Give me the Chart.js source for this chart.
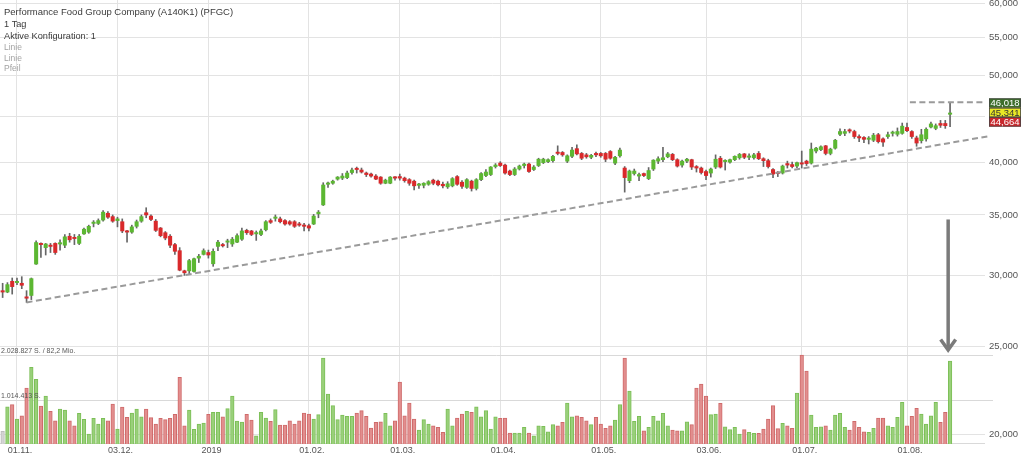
<!DOCTYPE html>
<html><head><meta charset="utf-8">
<script src="https://cdn.jsdelivr.net/npm/chart.js@4.4.1/dist/chart.umd.min.js"></script>
<style>html,body{margin:0;padding:0;background:#fff;overflow:hidden}#wrap{position:relative;width:1024px;height:459px}</style>
</head><body><div id="wrap"><canvas id="c"></canvas></div>
<script>
const titleLines = ["Performance Food Group Company (A140K1) (PFGC)", "1 Tag", "Aktive Konfiguration: 1"];
const drawingLines = ["Linie", "Linie", "Pfeil"];
const xTickIdx = [3, 24, 43, 64, 83, 104, 125, 147, 167, 189];
const xTickLabels = ["01.11.", "03.12.", "2019", "01.02.", "01.03.", "01.04.", "01.05.", "03.06.", "01.07.", "01.08."];
const yTickValues = [20, 25, 30, 35, 40, 45, 50, 55, 60];

const open = [
28.85,28.75,29.55,29.45,29.40,28.40,28.50,30.88,32.55,32.20,
32.40,32.55,32.50,32.40,33.15,33.05,32.55,33.35,33.50,34.25,
34.25,34.55,35.15,34.85,34.50,34.40,33.60,33.50,34.00,34.45,
35.20,34.90,34.45,33.85,33.45,33.15,32.45,31.95,30.35,30.35,
30.30,31.35,31.65,31.80,30.90,32.30,32.45,32.65,32.50,32.65,
32.90,33.65,33.60,33.35,33.30,33.70,34.50,34.70,34.65,34.50,
34.40,34.40,34.20,34.05,34.05,34.20,35.10,35.91,37.85,37.95,
38.35,38.45,38.50,39.00,39.35,39.25,38.95,38.85,38.65,38.55,
37.95,37.95,38.50,38.60,38.45,38.30,38.15,37.75,37.75,37.85,
38.25,38.15,37.85,37.60,37.70,38.60,38.05,37.55,38.15,37.45,
38.30,38.70,38.80,39.60,39.95,39.75,39.15,38.80,39.35,39.70,
39.85,39.30,39.70,40.00,40.10,40.20,41.05,41.05,40.15,40.65,
41.45,40.95,40.80,40.55,40.95,40.95,40.95,41.15,39.95,40.70,
39.45,38.20,38.90,38.65,38.90,38.40,39.35,40.15,40.30,40.60,
40.85,40.30,39.75,40.15,40.30,39.60,39.45,39.10,38.95,39.55,
40.45,40.10,40.05,40.30,40.50,40.90,40.55,40.50,40.95,40.40,
40.20,39.30,39.00,38.95,39.90,39.80,39.65,39.90,40.15,39.95,
41.20,41.35,41.75,40.95,41.50,43.00,43.10,43.45,43.30,42.75,
42.65,42.45,42.35,42.95,42.50,42.75,43.10,43.00,43.10,43.75,
43.30,42.60,42.30,42.50,43.80,43.65,44.20,44.20,45.25];
const high = [
29.40,29.45,29.80,29.80,29.90,28.85,29.80,32.76,32.60,32.55,
32.55,32.60,32.85,33.30,33.40,33.30,33.30,33.85,34.10,34.50,
34.65,35.40,35.30,35.00,34.80,34.65,33.65,34.10,34.55,35.00,
35.65,35.00,34.60,33.90,33.55,33.30,32.55,32.20,30.40,31.25,
31.35,31.65,32.10,32.00,32.10,32.80,32.55,32.90,33.05,33.35,
33.85,33.75,33.65,33.60,33.75,34.50,34.65,35.00,34.80,34.60,
34.50,34.50,34.35,34.25,34.20,35.05,35.40,38.00,38.05,38.25,
38.60,38.90,39.15,39.45,39.55,39.45,39.05,38.95,38.80,38.60,
38.35,38.60,38.60,38.85,38.55,38.40,38.25,37.95,38.00,38.20,
38.35,38.25,38.05,38.10,38.50,38.70,38.20,38.40,38.25,38.40,
39.00,39.30,39.60,39.90,40.10,39.85,39.25,39.50,39.75,39.95,
39.95,39.70,40.45,40.45,40.40,40.75,41.75,41.15,40.80,41.60,
41.85,41.05,40.95,40.85,41.10,41.05,41.05,41.25,40.65,41.50,
39.60,39.25,39.35,38.95,38.95,39.50,40.30,40.60,41.60,41.05,
40.95,40.40,40.25,40.45,40.35,39.70,39.55,39.25,39.45,40.80,
40.65,40.30,40.35,40.70,40.95,40.95,40.90,40.95,41.15,40.50,
40.35,39.40,39.10,39.75,40.15,40.05,40.05,41.20,40.25,42.05,
41.60,41.75,41.80,41.50,42.45,43.60,43.55,43.60,43.45,42.95,
42.75,42.75,43.10,43.10,42.60,43.25,43.35,43.70,44.25,44.25,
43.40,42.80,43.55,43.70,44.35,44.15,44.55,44.55,46.60];
const low = [
28.35,28.70,28.60,29.30,29.00,28.00,28.20,30.85,31.40,31.60,
31.80,31.65,32.00,32.20,32.65,32.45,32.45,33.30,33.40,33.95,
34.15,34.45,34.70,34.35,33.95,33.45,32.65,33.40,33.85,34.35,
34.75,34.50,33.55,33.10,32.85,32.20,31.65,30.35,30.00,30.10,
30.25,31.00,31.60,31.35,30.70,31.95,32.25,32.20,32.30,32.60,
32.80,33.30,33.20,32.80,33.20,33.60,34.25,34.45,34.30,34.10,
34.10,33.90,34.00,33.60,33.60,34.15,34.75,35.85,37.55,37.85,
38.25,38.30,38.40,38.85,38.95,38.95,38.60,38.55,38.30,37.85,
37.90,37.90,38.25,38.25,38.05,37.75,37.30,37.45,37.50,37.75,
37.80,37.70,37.50,37.45,37.60,37.75,37.45,37.45,37.20,37.30,
38.20,38.60,38.70,39.45,39.60,38.85,38.70,38.70,39.25,39.45,
39.00,39.20,39.60,39.90,40.00,40.05,40.80,40.65,40.00,40.50,
40.80,40.30,40.45,40.40,40.60,40.55,40.10,40.35,39.80,40.55,
37.10,38.00,38.75,38.20,38.60,38.30,39.20,39.90,40.10,40.50,
40.20,39.55,39.55,40.00,39.30,39.05,38.85,38.30,38.55,39.40,
39.45,39.25,39.95,40.20,40.35,40.40,40.30,40.35,40.30,39.60,
39.45,38.50,38.60,38.85,39.45,39.45,39.50,39.45,39.70,39.85,
41.00,41.25,40.80,40.80,41.40,42.85,42.85,43.15,42.55,42.20,
42.10,41.95,42.20,42.05,41.70,42.55,42.80,42.80,43.00,43.30,
42.55,41.70,42.05,42.25,43.70,43.50,43.75,43.65,43.85];
const close = [
28.75,29.30,29.15,29.50,29.25,28.30,29.75,32.62,32.45,32.50,
32.30,31.80,32.60,33.10,32.85,32.95,33.15,33.75,34.00,34.35,
34.50,35.25,34.80,34.45,34.65,33.60,33.50,33.95,34.40,34.85,
35.00,34.60,33.65,33.20,33.00,32.40,31.90,30.40,30.20,31.15,
31.30,31.50,31.95,31.60,31.90,32.65,32.35,32.75,32.90,33.20,
33.60,33.45,33.30,33.45,33.60,34.40,34.35,34.80,34.40,34.20,
34.20,34.00,34.10,34.00,33.85,34.90,35.25,37.78,37.95,38.15,
38.55,38.65,38.95,39.25,39.30,39.05,38.80,38.65,38.35,37.95,
38.25,38.55,38.45,38.45,38.20,37.95,37.70,37.80,37.95,38.10,
37.95,37.80,37.70,37.90,38.40,37.85,37.65,38.30,37.45,38.30,
38.90,39.05,39.55,39.75,39.70,38.95,38.80,39.35,39.65,39.85,
39.10,39.55,40.35,40.35,40.30,40.65,40.95,40.80,40.70,41.30,
40.90,40.45,40.60,40.75,40.80,40.70,40.35,40.45,40.55,41.30,
38.50,39.15,39.15,38.80,38.70,39.20,40.25,40.40,40.50,40.90,
40.30,39.65,40.15,40.35,39.55,39.45,39.00,38.70,39.35,40.35,
39.55,40.15,40.30,40.65,40.85,40.55,40.65,40.80,40.40,40.20,
39.60,38.85,38.90,39.65,39.75,39.60,40.00,39.85,39.90,41.40,
41.50,41.65,40.95,41.40,42.35,43.30,43.30,43.35,42.75,42.60,
42.45,42.55,42.90,42.20,42.15,42.95,43.20,43.30,43.90,43.40,
42.75,42.05,42.95,43.55,44.15,43.95,44.00,43.95,45.341];
const volume = [
287000,850000,896000,570000,645000,1277000,1746000,1473000,866000,1094000,
743000,531000,798000,775000,531000,417000,698000,561000,228000,584000,
456000,584000,531000,912000,342000,843000,606000,707000,798000,622000,
798000,600000,456000,584000,554000,584000,675000,1518000,417000,775000,
333000,456000,479000,675000,720000,720000,622000,805000,1094000,524000,
502000,675000,547000,189000,723000,593000,517000,782000,433000,433000,
531000,456000,531000,707000,684000,570000,668000,1960000,1140000,873000,
554000,661000,631000,631000,707000,759000,631000,365000,495000,508000,
700000,417000,531000,1413000,645000,935000,570000,319000,554000,456000,
417000,381000,267000,798000,417000,593000,684000,745000,723000,850000,
622000,759000,342000,622000,586000,593000,251000,251000,251000,381000,
251000,189000,417000,403000,280000,440000,417000,495000,935000,622000,
645000,609000,531000,440000,609000,456000,358000,417000,547000,896000,
1960000,1208000,517000,631000,303000,381000,631000,531000,700000,417000,
319000,303000,303000,508000,440000,1277000,1368000,1094000,668000,684000,
928000,394000,326000,381000,228000,326000,267000,244000,244000,342000,
570000,873000,349000,472000,417000,358000,1163000,2028827,1664000,661000,
381000,394000,417000,319000,661000,700000,381000,319000,517000,381000,
280000,267000,358000,593000,593000,417000,381000,609000,951000,417000,
631000,814000,684000,456000,645000,951000,495000,723000,1892000];

const volumeLevels = [2028827, 1014413];
const volumeTurnover = "82,2 Mio.";
const priceBoxes = [46.018, 45.341, 44.664];
const trendLine = [{x: 5, y: 28.0}, {x: 205.9, y: 42.77}];
const levelLine = [{x: 189.6, y: 46.65}, {x: 204.8, y: 46.65}];
const arrowMark = {x: 197.6, from: 34.6, to: 24.74};

const FONT = '"Liberation Sans", Arial, Helvetica, sans-serif';
Chart.defaults.font.family = FONT;

function fmt3(v) { return v.toFixed(3).replace('.', ','); }
function fmtInt(v) { return String(Math.round(v)).replace(/\B(?=(\d{3})+(?!\d))/g, '.'); }

const UP = '#5cb732', DOWN = '#d9292b';
const VOL_MAX = volumeLevels[0] * 444 / 89;

const overlay = {
  id: 'overlay',
  beforeDatasetsDraw(chart) {
    const {ctx, chartArea: a, scales} = chart;
    const yv = scales.yv;
    ctx.save();
    ctx.strokeStyle = '#d9d9d9';
    ctx.lineWidth = 1;
    volumeLevels.forEach(v => {
      const y = Math.round(yv.getPixelForValue(v)) + 0.5;
      ctx.beginPath(); ctx.moveTo(a.left, y); ctx.lineTo(993, y); ctx.stroke();
    });
    const yb = Math.round(yv.getPixelForValue(0)) - 0.5;
    ctx.beginPath(); ctx.moveTo(a.left, yb); ctx.lineTo(a.right, yb); ctx.stroke();
    ctx.restore();
  },
  afterDatasetsDraw(chart) {
    const {ctx, scales} = chart;
    const x = scales.x, y = scales.y, yv = scales.yv;
    ctx.save();
    ctx.font = '7px ' + FONT;
    ctx.fillStyle = '#555';
    ctx.textBaseline = 'alphabetic';
    ctx.fillText(fmtInt(volumeLevels[0]) + ' S. / ' + volumeTurnover, 1, yv.getPixelForValue(volumeLevels[0]) - 2);
    ctx.fillText(fmtInt(volumeLevels[1]) + ' S.', 1, yv.getPixelForValue(volumeLevels[1]) - 2);
    const ax = x.getPixelForValue(arrowMark.x);
    const y1 = y.getPixelForValue(arrowMark.from);
    const y2 = y.getPixelForValue(arrowMark.to);
    ctx.strokeStyle = '#7b7b7b';
    ctx.lineWidth = 3.5;
    ctx.lineCap = 'butt';
    ctx.lineJoin = 'miter';
    ctx.beginPath(); ctx.moveTo(ax, y1); ctx.lineTo(ax, y2 - 2); ctx.stroke();
    ctx.beginPath(); ctx.moveTo(ax - 7.5, y2 - 11.5); ctx.lineTo(ax, y2 - 1); ctx.lineTo(ax + 7.5, y2 - 11.5); ctx.stroke();
    ctx.restore();
  },
  afterDraw(chart) {
    const {ctx, scales} = chart;
    const y = scales.y;
    ctx.save();
    const yc = y.getPixelForValue(priceBoxes[1]) - 1;
    const h = 9.4;
    const styles = [
      {bg: '#3d6e2b', fg: '#ffffff'},
      {bg: '#e9e826', fg: '#333333'},
      {bg: '#c9292e', fg: '#ffffff'}
    ];
    ctx.font = '9.5px ' + FONT;
    ctx.textAlign = 'center';
    ctx.textBaseline = 'middle';
    priceBoxes.forEach((v, k) => {
      const top = yc - h / 2 + (k - 1) * h;
      ctx.fillStyle = styles[k].bg;
      ctx.fillRect(989, top, 32, h);
      ctx.strokeStyle = '#444';
      ctx.lineWidth = 0.8;
      ctx.strokeRect(989.4, top + 0.4, 31.2, h - 0.8);
      ctx.fillStyle = styles[k].fg;
      ctx.fillText(fmt3(v), 1005, top + h / 2 + 0.5);
    });
    ctx.textAlign = 'left';
    ctx.textBaseline = 'middle';
    ctx.fillStyle = '#3a3a3a';
    ctx.font = '9.5px ' + FONT;
    ctx.fillText(titleLines[0], 4, 12);
    ctx.font = '9.2px ' + FONT;
    ctx.fillText(titleLines[1], 4, 24);
    ctx.fillText(titleLines[2], 4, 36.5);
    ctx.fillStyle = '#a3a3a3';
    ctx.font = '8.5px ' + FONT;
    drawingLines.forEach((t, k) => ctx.fillText(t, 4, 48 + k * 10.5));
    ctx.restore();
  }
};

const isUp = i => close[i] >= open[i];

new Chart(document.getElementById('c'), {
  type: 'bar',
  data: {
    datasets: [
      {type: 'line', data: trendLine, borderColor: '#9a9a9a', borderWidth: 2, borderDash: [6, 3.5],
       pointRadius: 0, fill: false, clip: false, order: 0, tension: 0, yAxisID: 'y', xAxisID: 'x'},
      {type: 'line', data: levelLine, borderColor: '#9a9a9a', borderWidth: 2, borderDash: [6, 3.5],
       pointRadius: 0, fill: false, clip: false, order: 0, tension: 0, yAxisID: 'y', xAxisID: 'x'},
      {data: open.map((o, i) => ({x: i, y: [o, close[i]]})),
       backgroundColor: c => isUp(c.dataIndex) ? UP : DOWN,
       barThickness: 3.4, minBarLength: 1.3, grouped: false, order: 1, yAxisID: 'y', xAxisID: 'x'},
      {data: low.map((l, i) => ({x: i, y: [l, high[i]]})),
       backgroundColor: '#666666', barThickness: 1, grouped: false, order: 2, yAxisID: 'y', xAxisID: 'x'},
      {data: volume.map((v, i) => ({x: i, y: v})),
       backgroundColor: c => c.dataIndex === 0 ? '#d4d4d4' : (isUp(c.dataIndex) ? '#99d07a' : '#e28e8e'),
       borderColor: c => c.dataIndex === 0 ? '#bdbdbd' : (isUp(c.dataIndex) ? '#7cbf57' : '#cf6a6a'),
       borderWidth: 1, borderSkipped: 'start', barThickness: 3.6, grouped: false, order: 3, yAxisID: 'yv', xAxisID: 'x'}
    ]
  },
  options: {
    responsive: true, maintainAspectRatio: false, animation: false, devicePixelRatio: 1,
    events: [],
    layout: {padding: 0},
    plugins: {legend: {display: false}, tooltip: {enabled: false}},
    scales: {
      x: {
        type: 'linear', position: 'bottom', min: -0.55, max: 205.3, bounds: 'data', offset: false,
        afterBuildTicks: s => { s.ticks = xTickIdx.map(v => ({value: v})); },
        afterFit: s => { s.height = 15; s.paddingLeft = 0; s.paddingRight = 0; },
        ticks: {autoSkip: false, maxRotation: 0, minRotation: 0, padding: 1, labelOffset: 3,
                color: '#555', font: {size: 9},
                callback: v => { const k = xTickIdx.indexOf(v); return k >= 0 ? xTickLabels[k] : ''; }},
        grid: {color: '#e3e3e3', drawTicks: false, offset: false},
        border: {display: false}
      },
      y: {
        type: 'logarithmic', position: 'right', min: 19.51, max: 60.57, bounds: 'data',
        afterBuildTicks: s => { s.ticks = yTickValues.map(v => ({value: v})); },
        afterFit: s => { s.width = 39; s.paddingTop = 0; s.paddingBottom = 0; },
        ticks: {padding: 4, color: '#555', font: {size: 9.5}, crossAlign: 'near', callback: v => fmt3(v)},
        grid: {color: '#e3e3e3', drawTicks: false},
        border: {display: false}
      },
      yv: {type: 'linear', display: false, min: 0, max: VOL_MAX}
    }
  },
  plugins: [overlay]
});
</script>
</body></html>
